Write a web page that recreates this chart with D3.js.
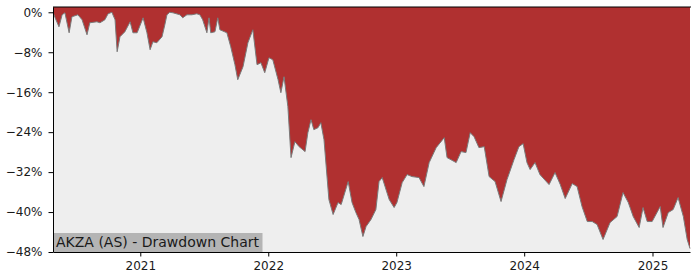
<!DOCTYPE html>
<html>
<head>
<meta charset="utf-8">
<script src="https://cdn.jsdelivr.net/npm/d3@7"></script>
<style>
  body { margin: 0; background: #ffffff; }
  svg { display: block; font-family: "DejaVu Sans", sans-serif; }
</style>
</head>
<body>
<div id="chart"></div>
<script>
// set dimensions & margins of graph
var width = 700;
var height = 280;
var margin = { top: 7, right: 10, bottom: 28, left: 53 };

var title = 'AKZA (AS) - Drawdown Chart';

// drawdown (percent below running peak)
var dates = [
  '2020-04-27', '2020-05-03', '2020-05-14', '2020-05-23', '2020-05-31', '2020-06-12', '2020-06-20', '2020-07-07',
  '2020-07-19', '2020-08-02', '2020-08-10', '2020-08-30', '2020-09-08', '2020-09-22', '2020-10-01', '2020-10-12',
  '2020-10-21', '2020-10-27', '2020-11-04', '2020-11-18', '2020-12-03', '2020-12-11', '2020-12-23', '2021-01-09',
  '2021-01-20', '2021-01-29', '2021-02-06', '2021-02-17', '2021-03-04', '2021-03-12', '2021-03-18', '2021-03-26',
  '2021-04-04', '2021-04-24', '2021-05-02', '2021-05-14', '2021-05-28', '2021-06-11', '2021-06-20', '2021-06-28',
  '2021-07-10', '2021-07-16', '2021-07-21', '2021-08-02', '2021-08-10', '2021-08-16', '2021-09-05', '2021-09-16',
  '2021-09-28', '2021-10-06', '2021-10-21', '2021-11-04', '2021-11-18', '2021-11-30', '2021-12-11', '2021-12-22',
  '2022-01-03', '2022-01-14', '2022-01-29', '2022-02-06', '2022-02-15', '2022-02-26', '2022-03-07', '2022-03-18',
  '2022-03-30', '2022-04-16', '2022-04-24', '2022-05-03', '2022-05-11', '2022-05-23', '2022-05-31', '2022-06-09',
  '2022-06-23', '2022-07-05', '2022-07-19', '2022-07-28', '2022-08-17', '2022-08-28', '2022-09-08', '2022-09-17',
  '2022-09-28', '2022-10-07', '2022-10-21', '2022-11-04', '2022-11-13', '2022-11-22', '2022-12-12', '2022-12-26',
  '2023-01-03', '2023-01-18', '2023-02-01', '2023-02-15', '2023-03-07', '2023-03-21', '2023-04-05', '2023-04-25',
  '2023-05-18', '2023-05-26', '2023-06-21', '2023-07-05', '2023-07-19', '2023-07-31', '2023-08-11', '2023-08-25',
  '2023-09-09', '2023-09-23', '2023-10-10', '2023-10-27', '2023-11-13', '2023-12-03', '2023-12-17', '2023-12-29',
  '2024-01-09', '2024-01-18', '2024-02-01', '2024-02-15', '2024-03-12', '2024-03-29', '2024-04-13', '2024-04-27',
  '2024-05-17', '2024-05-31', '2024-06-14', '2024-06-29', '2024-07-13', '2024-07-27', '2024-08-13', '2024-09-02',
  '2024-09-22', '2024-10-09', '2024-10-24', '2024-11-07', '2024-11-24', '2024-12-05', '2024-12-17', '2024-12-31',
  '2025-01-23', '2025-01-31', '2025-02-15', '2025-03-01', '2025-03-15', '2025-03-30', '2025-04-10', '2025-04-18'
];

var drawdown = [
  0.0, -1.1, -2.9, -0.5, -0.1, -4.1, -0.9, -0.5,
  -1.5, -4.5, -2.1, -1.9, -2.1, -1.5, -0.3, 0.0,
  -1.5, -7.9, -4.9, -3.9, -1.9, -4.1, -4.1, -1.1,
  -4.1, -7.5, -5.9, -6.1, -4.9, -2.5, -0.5, 0.0,
  -0.1, -0.5, -1.1, -0.5, -0.5, -0.3, -0.5, -1.5,
  -4.1, -1.1, -4.1, -3.9, -1.1, -3.5, -4.1, -6.9,
  -10.5, -13.5, -10.9, -6.1, -3.5, -10.5, -10.1, -12.1,
  -9.1, -9.5, -13.5, -16.1, -12.9, -18.9, -29.1, -25.9,
  -26.9, -27.9, -24.1, -21.5, -23.5, -23.1, -22.1, -25.5,
  -37.5, -40.5, -38.1, -38.5, -33.9, -38.1, -40.1, -41.5,
  -44.9, -42.9, -41.5, -39.5, -33.9, -33.1, -37.5, -39.1,
  -38.1, -34.1, -32.5, -32.9, -33.1, -34.9, -30.1, -27.1,
  -25.1, -29.1, -30.1, -27.9, -28.1, -24.1, -24.9, -27.1,
  -26.9, -32.9, -33.9, -37.9, -33.5, -29.5, -26.9, -26.3,
  -30.1, -31.5, -30.1, -32.5, -34.5, -32.1, -34.5, -37.3,
  -34.3, -34.9, -38.9, -41.9, -41.9, -42.5, -45.5, -42.1,
  -40.9, -36.1, -38.1, -40.9, -43.1, -39.1, -41.9, -41.9,
  -38.9, -43.1, -40.1, -39.5, -37.1, -40.9, -45.5, -47.3
];

var yTicks = [0, -8, -16, -24, -32, -40, -48];
var xTicks = ['2021-01-01', '2022-01-01', '2023-01-01', '2024-01-01', '2025-01-01'];

var parseDate = d3.timeParse('%Y-%m-%d');

var data = dates.map(function(d, i) {
  return { date: parseDate(d), value: drawdown[i] };
});

var svg = d3.select('#chart')
  .append('svg')
  .attr('width', width)
  .attr('height', height);

var x = d3.scaleTime()
  .domain(d3.extent(data, function(d) { return d.date; }))
  .range([margin.left, width - margin.right]);

var y = d3.scaleLinear()
  .domain([-48, 1.06])
  .range([height - margin.bottom, margin.top]);

// plot background
svg.append('rect')
  .attr('x', margin.left)
  .attr('y', margin.top)
  .attr('width', width - margin.left - margin.right)
  .attr('height', height - margin.top - margin.bottom)
  .attr('fill', '#eeeeee');

// red fill between curve and top of the plot
var area = d3.area()
  .x(function(d) { return x(d.date); })
  .y0(margin.top)
  .y1(function(d) { return y(d.value); });

svg.append('path')
  .datum(data)
  .attr('d', area)
  .attr('fill', '#b03030');

var line = d3.line()
  .x(function(d) { return x(d.date); })
  .y(function(d) { return y(d.value); });

svg.append('path')
  .datum(data)
  .attr('d', line)
  .attr('fill', 'none')
  .attr('stroke', '#7a7a7a')
  .attr('stroke-width', 1);

// title box in lower left corner
var label = svg.append('g');
var labelRect = label.append('rect')
  .attr('fill', '#b4b4b4');
var labelText = label.append('text')
  .attr('x', margin.left + 3)
  .attr('y', height - margin.bottom - 5)
  .attr('font-size', '14px')
  .attr('fill', '#1a1a1a')
  .text(title);
var bb = labelText.node().getBBox();
labelRect
  .attr('x', margin.left)
  .attr('y', height - margin.bottom - 19)
  .attr('width', bb.width + 6)
  .attr('height', 19);

// axes
var yAxis = svg.append('g')
  .attr('transform', 'translate(' + margin.left + ',0)')
  .call(d3.axisLeft(y)
    .tickValues(yTicks)
    .tickFormat(function(d) { return d3.format('d')(d) + '%'; })
    .tickSize(4.5)
    .tickPadding(6)
    .tickSizeOuter(0));

var xAxis = svg.append('g')
  .attr('transform', 'translate(0,' + (height - margin.bottom) + ')')
  .call(d3.axisBottom(x)
    .tickValues(xTicks.map(parseDate))
    .tickFormat(d3.timeFormat('%Y'))
    .tickSize(4.5)
    .tickPadding(5)
    .tickSizeOuter(0));

svg.selectAll('.tick text')
  .attr('font-size', '12px')
  .attr('font-family', '"DejaVu Sans", sans-serif')
  .attr('fill', '#1a1a1a');

svg.selectAll('.domain, .tick line')
  .attr('stroke', '#000')
  .attr('stroke-width', 1);

// top spine
svg.append('line')
  .attr('x1', margin.left)
  .attr('x2', width - margin.right + 1)
  .attr('y1', margin.top)
  .attr('y2', margin.top)
  .attr('stroke', '#000')
  .attr('stroke-width', 1.2);
</script>
</body>
</html>
